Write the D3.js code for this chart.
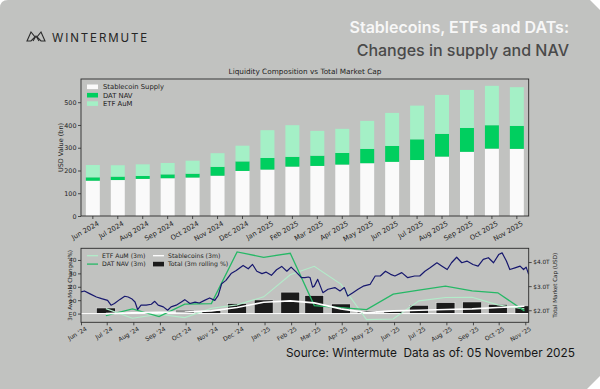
<!DOCTYPE html>
<html>
<head>
<meta charset="utf-8">
<script src="https://cdn.jsdelivr.net/npm/d3@7"></script>
<style>
  html, body { margin: 0; padding: 0; background: #ffffff; }
  svg { display: block; }
</style>
</head>
<body>
<div id="chart"></div>
<script>
// ── Data ──────────────────────────────────────────────────────
var months = ['Jun 2024', 'Jul 2024', 'Aug 2024', 'Sep 2024', 'Oct 2024', 'Nov 2024',
              'Dec 2024', 'Jan 2025', 'Feb 2025', 'Mar 2025', 'Apr 2025', 'May 2025',
              'Jun 2025', 'Jul 2025', 'Aug 2025', 'Sep 2025', 'Oct 2025', 'Nov 2025'];
var stablecoinSupply = [155, 158, 163, 166, 169, 177, 198, 204, 217, 220, 226, 232, 238, 246, 261, 282, 296, 295];
var datNav           = [ 15,  15,  13,  17,  17,  39,  42,  51,  43,  45,  51,  63,  70,  91, 100, 105, 103, 101];
var etfAum           = [ 54,  50,  51,  50,  57,  60,  69, 122, 139, 109, 106, 123, 145, 148, 171, 167, 173, 170];
var topTicks = [0, 100, 200, 300, 400, 500];

var monthEnds = ['2024-06-30', '2024-07-31', '2024-08-31', '2024-09-30', '2024-10-31', '2024-11-30',
                 '2024-12-31', '2025-01-31', '2025-02-28', '2025-03-31', '2025-04-30', '2025-05-31',
                 '2025-06-30', '2025-07-31', '2025-08-31', '2025-09-30', '2025-10-31'];
var etf3m    = [3.7, -3.5, -0.5, -3.0, 4.0, 6.5, 12.5, 29.0, 35.3, 22.0, -4.5, -4.0, 9.5, 12.0, 12.2, 6.5, 3.5];
var dat3m    = [-1.5, 3.5, -2.2, 7.0, 7.5, 46.0, 42.0, 45.0, 6.0, 4.5, 3.0, 14.5, 17.5, 20.5, 17.0, 15.5, 2.0];
var stable3m = [0.0, 0.5, 1.0, 1.2, 2.0, 4.5, 8.5, 9.5, 8.0, 3.5, 0.7, 2.0, 2.5, 3.0, 3.5, 4.5, 5.5];
var total3m  = [4.2, 1.0, 0.5, 2.5, 2.2, 7.5, 10.2, 16.0, 13.5, 7.2, 2.0, 1.8, 6.2, 8.2, 8.7, 6.9, 5.8];
var pctTicks = [0, 10, 20, 30, 40];
var capTicks = [2.0, 3.0, 4.0];

var mcapDates = ['2024-06-01','2024-06-05','2024-06-11','2024-06-19','2024-06-25','2024-07-02','2024-07-06',
  '2024-07-10','2024-07-16','2024-07-22','2024-07-26','2024-07-30','2024-08-03','2024-08-06','2024-08-10',
  '2024-08-16','2024-08-22','2024-08-26','2024-08-30','2024-09-05','2024-09-10','2024-09-14','2024-09-20',
  '2024-09-26','2024-09-30','2024-10-06','2024-10-12','2024-10-17','2024-10-23','2024-10-29','2024-11-04',
  '2024-11-08','2024-11-12','2024-11-17','2024-11-23','2024-11-29','2024-12-07','2024-12-13','2024-12-18',
  '2024-12-23','2024-12-29','2025-01-03','2025-01-09','2025-01-15','2025-01-21','2025-01-27','2025-02-01',
  '2025-02-07','2025-02-13','2025-02-17','2025-02-21','2025-02-23','2025-02-26','2025-02-28','2025-03-04',
  '2025-03-10','2025-03-16','2025-03-24','2025-03-30','2025-04-04','2025-04-08','2025-04-14','2025-04-20',
  '2025-04-26','2025-05-04','2025-05-10','2025-05-16','2025-05-22','2025-05-28','2025-06-02','2025-06-10',
  '2025-06-17','2025-06-25','2025-07-01','2025-07-07','2025-07-13','2025-07-21','2025-07-27','2025-08-02',
  '2025-08-07','2025-08-13','2025-08-19','2025-08-25','2025-09-01','2025-09-07','2025-09-13','2025-09-19',
  '2025-09-25','2025-10-01','2025-10-05','2025-10-10','2025-10-14','2025-10-20','2025-10-26','2025-10-30',
  '2025-11-02','2025-11-05'];
var mcapValues = [2.76, 2.80, 2.69, 2.55, 2.48, 2.41, 2.21,
  2.28, 2.44, 2.58, 2.55, 2.48, 2.34, 2.03, 2.21,
  2.21, 2.25, 2.37, 2.21, 2.14, 2.00, 2.14, 2.21,
  2.34, 2.44, 2.28, 2.34, 2.30, 2.41, 2.51, 2.41,
  2.62, 3.10, 3.24, 3.52, 3.65, 3.86, 3.72, 3.90,
  3.62, 3.52, 3.58, 3.45, 3.68, 3.82, 3.62, 3.79,
  3.58, 3.35, 3.35, 3.38, 3.36, 2.96, 3.00, 3.28,
  2.73, 2.87, 2.94, 2.80, 2.94, 2.59, 2.73, 2.87,
  3.00, 3.07, 3.42, 3.42, 3.62, 3.49, 3.42, 3.56,
  3.35, 3.42, 3.42, 3.62, 3.76, 3.97, 3.83, 3.69,
  3.97, 4.20, 3.97, 4.04, 3.90, 3.83, 4.11, 4.18,
  3.97, 4.31, 4.38, 4.04, 3.69, 3.76, 3.83, 3.69,
  3.79, 3.49];

// ── Styles ─────────────────────────────────────────────────────
var BG        = '#c1c2c0';
var AXIS      = '#2a2a2a';
var TXT       = '#1e1e1e';
var C_STABLE  = '#fafafa';
var C_DAT     = '#00cf5f';
var C_ETF     = '#a4f0c6';
var C_ETF_L   = '#b2ecc9';
var C_DAT_L   = '#26b866';
var C_MCAP    = '#17186e';
var CHART_FONT = 'DejaVu Sans, sans-serif';
var HEAD_FONT  = 'Inter, Roboto, sans-serif';

var W = 600, H = 389;
var parse = d3.timeParse('%Y-%m-%d');

var svg = d3.select('#chart').append('svg')
  .attr('width', W).attr('height', H);

// Card background with clipped corners
svg.append('path')
  .attr('d', 'M 8 0 L 590 0 L 600 10 L 600 376 L 587 389 L 0 389 L 0 8 Q 0 0 8 0 Z')
  .attr('fill', BG);

// ── Header ─────────────────────────────────────────────────────
var logo = svg.append('g').attr('fill', 'none').attr('stroke', '#2b2b2b').attr('stroke-width', 1.1);
logo.append('path').attr('d', 'M 27 41 L 31 32 L 35 37 L 31 41 Z');
logo.append('path').attr('d', 'M 45 41 L 41 32 L 37 37 L 41 41 Z');
logo.append('path').attr('d', 'M 33 41 L 36 36 L 39 41');

svg.append('text')
  .attr('x', 52).attr('y', 41.5)
  .attr('font-family', HEAD_FONT).attr('font-size', 11.5)
  .attr('letter-spacing', 1.9)
  .attr('fill', '#262626')
  .text('WINTERMUTE');

svg.append('text')
  .attr('x', 569).attr('y', 33)
  .attr('text-anchor', 'end')
  .attr('font-family', HEAD_FONT).attr('font-size', 16).attr('font-weight', 600)
  .attr('fill', '#f7f7f7')
  .text('Stablecoins, ETFs and DATs:');

svg.append('text')
  .attr('x', 569).attr('y', 56)
  .attr('text-anchor', 'end')
  .attr('font-family', HEAD_FONT).attr('font-size', 16).attr('font-weight', 500)
  .attr('fill', '#4a4a4a')
  .text('Changes in supply and NAV');

svg.append('text')
  .attr('x', 305).attr('y', 74)
  .attr('text-anchor', 'middle')
  .attr('font-family', CHART_FONT).attr('font-size', 7.3)
  .attr('fill', TXT)
  .text('Liquidity Composition vs Total Market Cap');

// ── Upper chart: stacked bars ─────────────────────────────────
var upper = { l: 81, r: 528.7, t: 79, b: 216 };

var x0 = d3.scaleBand().domain(months)
  .range([upper.l, upper.r]).paddingInner(0.44).paddingOuter(0.195);
var y0 = d3.scaleLinear().domain([0, 602]).range([upper.b, upper.t]);

var rows = months.map(function(m, i) {
  return { month: m, stable: stablecoinSupply[i], dat: datNav[i], etf: etfAum[i] };
});
var keys = ['stable', 'dat', 'etf'];
var colors = { stable: C_STABLE, dat: C_DAT, etf: C_ETF };
var stacked = d3.stack().keys(keys)(rows);

svg.append('g').selectAll('g')
  .data(stacked).enter().append('g')
  .attr('fill', function(s) { return colors[s.key]; })
  .selectAll('rect')
  .data(function(s) { return s; }).enter().append('rect')
  .attr('x', function(d) { return x0(d.data.month); })
  .attr('width', x0.bandwidth())
  .attr('y', function(d) { return y0(d[1]); })
  .attr('height', function(d) { return y0(d[0]) - y0(d[1]); });

function styleAxis(g, fs) {
  g.select('.domain').remove();
  g.selectAll('line').attr('stroke', AXIS).attr('stroke-width', 0.8);
  g.selectAll('text').attr('font-family', CHART_FONT).attr('font-size', fs).attr('fill', TXT);
}

svg.append('g').attr('transform', 'translate(' + upper.l + ',0)')
  .call(d3.axisLeft(y0).tickValues(topTicks).tickSize(3).tickPadding(1.5))
  .call(styleAxis, 6.4);

var gx0 = svg.append('g').attr('transform', 'translate(0,' + upper.b + ')')
  .call(d3.axisBottom(x0).tickSize(3))
  .call(styleAxis, 6.8);
gx0.selectAll('text')
  .attr('x', 0).attr('y', 0).attr('dy', '0.75em')
  .attr('text-anchor', 'end')
  .attr('transform', 'translate(4,4.5) rotate(-30)');

svg.append('rect')
  .attr('x', upper.l).attr('y', upper.t)
  .attr('width', upper.r - upper.l).attr('height', upper.b - upper.t)
  .attr('fill', 'none').attr('stroke', AXIS).attr('stroke-width', 0.9);

svg.append('text')
  .attr('transform', 'translate(62.5,' + ((upper.t + upper.b) / 2) + ') rotate(-90)')
  .attr('text-anchor', 'middle')
  .attr('font-family', CHART_FONT).attr('font-size', 6.5)
  .attr('fill', TXT)
  .text('USD Value (bn)');

var topLegend = [
  { label: 'Stablecoin Supply', color: C_STABLE },
  { label: 'DAT NAV',           color: C_DAT },
  { label: 'ETF AuM',           color: C_ETF }
];
var tl = svg.append('g').selectAll('g').data(topLegend).enter().append('g')
  .attr('transform', function(d, i) { return 'translate(87,' + (84.5 + i * 8.4) + ')'; });
tl.append('rect').attr('width', 11).attr('height', 4.6).attr('fill', function(d) { return d.color; });
tl.append('text').attr('x', 16).attr('y', 2.4).attr('dy', '0.35em')
  .attr('font-family', CHART_FONT).attr('font-size', 6.8).attr('fill', TXT)
  .text(function(d) { return d.label; });

// ── Lower chart: 3m changes vs market cap ──────────────────────
var bot = { l: 81, r: 528.7, t: 248.3, b: 322.3 };

var x1 = d3.scaleTime()
  .domain([parse('2024-06-01'), parse('2025-11-05')])
  .range([bot.l, bot.r]);
var yL = d3.scaleLinear().domain([-6.5, 48.7]).range([bot.b, bot.t]);
var yR = d3.scaleLinear().domain([1.5, 4.57]).range([bot.b, bot.t]);

svg.append('clipPath').attr('id', 'botClip')
  .append('rect')
  .attr('x', bot.l).attr('y', bot.t)
  .attr('width', bot.r - bot.l).attr('height', bot.b - bot.t);

var plot = svg.append('g').attr('clip-path', 'url(#botClip)');

var monthly = monthEnds.map(function(d, i) {
  return { date: parse(d), etf: etf3m[i], dat: dat3m[i], stable: stable3m[i], total: total3m[i] };
});

// Total (3m rolling %) bars, ~22 days wide around each month end
plot.append('g').selectAll('rect')
  .data(monthly).enter().append('rect')
  .attr('x', function(d) { return x1(d3.timeDay.offset(d.date, -11)); })
  .attr('width', function(d) {
    return x1(d3.timeDay.offset(d.date, 11)) - x1(d3.timeDay.offset(d.date, -11));
  })
  .attr('y', function(d) { return yL(Math.max(0, d.total)); })
  .attr('height', function(d) { return Math.abs(yL(0) - yL(d.total)); })
  .attr('fill', '#1b1b1b')
  .attr('stroke', '#e6e6e6').attr('stroke-width', 0.6);

// zero line
plot.append('line')
  .attr('x1', bot.l).attr('x2', bot.r)
  .attr('y1', yL(0)).attr('y2', yL(0))
  .attr('stroke', '#ffffff').attr('stroke-width', 1);

function monthlyLine(key) {
  return d3.line()
    .x(function(d) { return x1(d.date); })
    .y(function(d) { return yL(d[key]); });
}

plot.append('path').datum(monthly)
  .attr('d', monthlyLine('etf'))
  .attr('fill', 'none').attr('stroke', C_ETF_L).attr('stroke-width', 1.1);
plot.append('path').datum(monthly)
  .attr('d', monthlyLine('dat'))
  .attr('fill', 'none').attr('stroke', C_DAT_L).attr('stroke-width', 1.3);
plot.append('path').datum(monthly)
  .attr('d', monthlyLine('stable'))
  .attr('fill', 'none').attr('stroke', '#ffffff').attr('stroke-width', 1.6);

var mcap = mcapDates.map(function(d, i) { return { date: parse(d), v: mcapValues[i] }; });
plot.append('path').datum(mcap)
  .attr('d', d3.line()
    .x(function(d) { return x1(d.date); })
    .y(function(d) { return yR(d.v); }))
  .attr('fill', 'none').attr('stroke', C_MCAP).attr('stroke-width', 1.2)
  .attr('stroke-linejoin', 'round');

svg.append('g').attr('transform', 'translate(' + bot.l + ',0)')
  .call(d3.axisLeft(yL).tickValues(pctTicks).tickSize(3).tickPadding(1.5))
  .call(styleAxis, 5.8);

svg.append('g').attr('transform', 'translate(' + bot.r + ',0)')
  .call(d3.axisRight(yR).tickValues(capTicks).tickSize(3).tickPadding(1.5)
    .tickFormat(function(d) { return '$' + d3.format('.1f')(d) + 'T'; }))
  .call(styleAxis, 5.8);

var monthStarts = d3.timeMonth.range(parse('2024-06-01'), parse('2025-11-02'));
var gx1 = svg.append('g').attr('transform', 'translate(0,' + bot.b + ')')
  .call(d3.axisBottom(x1).tickValues(monthStarts).tickSize(3)
    .tickFormat(d3.timeFormat("%b '%y")))
  .call(styleAxis, 6);
gx1.selectAll('text')
  .attr('x', 0).attr('y', 0).attr('dy', '0.75em')
  .attr('text-anchor', 'end')
  .attr('transform', 'translate(3.5,4) rotate(-30)');

svg.append('rect')
  .attr('x', bot.l).attr('y', bot.t)
  .attr('width', bot.r - bot.l).attr('height', bot.b - bot.t)
  .attr('fill', 'none').attr('stroke', AXIS).attr('stroke-width', 0.9);

svg.append('text')
  .attr('transform', 'translate(72,' + ((bot.t + bot.b) / 2) + ') rotate(-90)')
  .attr('text-anchor', 'middle')
  .attr('font-family', CHART_FONT).attr('font-size', 5.6)
  .attr('fill', TXT)
  .text('3m Avg MoM Change (%)');

svg.append('text')
  .attr('transform', 'translate(557,' + ((bot.t + bot.b) / 2) + ') rotate(-90)')
  .attr('text-anchor', 'middle')
  .attr('font-family', CHART_FONT).attr('font-size', 5.6)
  .attr('fill', TXT)
  .text('Total Market Cap (USD)');

var botLegend = [
  { label: 'ETF AuM (3m)',         color: C_ETF_L,  type: 'line', col: 0, row: 0 },
  { label: 'DAT NAV (3m)',         color: C_DAT_L,  type: 'line', col: 0, row: 1 },
  { label: 'Stablecoins (3m)',     color: '#ffffff', type: 'line', col: 1, row: 0 },
  { label: 'Total (3m rolling %)', color: '#1b1b1b', type: 'box',  col: 1, row: 1 }
];
var bl = svg.append('g').selectAll('g').data(botLegend).enter().append('g')
  .attr('transform', function(d) {
    return 'translate(' + (87 + d.col * 66) + ',' + (255.7 + d.row * 8.4) + ')';
  });
bl.filter(function(d) { return d.type === 'line'; }).append('line')
  .attr('x1', 0).attr('x2', 11).attr('y1', 0).attr('y2', 0)
  .attr('stroke', function(d) { return d.color; }).attr('stroke-width', 1.3);
bl.filter(function(d) { return d.type === 'box'; }).append('rect')
  .attr('x', 0).attr('y', -2.3).attr('width', 11).attr('height', 4.6)
  .attr('fill', function(d) { return d.color; });
bl.append('text').attr('x', 15).attr('y', 0).attr('dy', '0.35em')
  .attr('font-family', CHART_FONT).attr('font-size', 6.2).attr('fill', TXT)
  .text(function(d) { return d.label; });

// ── Footer ─────────────────────────────────────────────────────
svg.append('text')
  .attr('x', 286).attr('y', 357)
  .attr('font-family', HEAD_FONT).attr('font-size', 11.8)
  .attr('fill', '#161616')
  .attr('xml:space', 'preserve')
  .text('Source: Wintermute  Data as of: 05 November 2025');
</script>
</body>
</html>
